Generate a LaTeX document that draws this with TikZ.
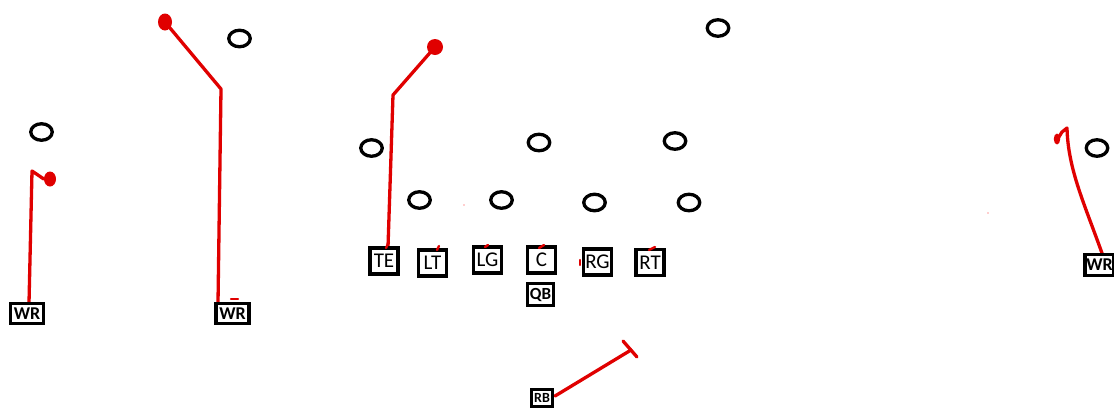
\documentclass[tikz,border=0pt]{standalone}
\usepackage{fontspec}
\setmainfont{Carlito}
\usetikzlibrary{shapes.geometric}
\begin{document}
\begin{tikzpicture}[x=1pt,y=-1pt,
  player/.style={draw=black,line width=3.8pt,fill=white,inner sep=0pt,font=\fontsize{21}{21}\selectfont},
  lineman/.style={player,minimum width=28pt,minimum height=26pt},
  skill/.style={player,line width=3.4pt,minimum width=33pt,minimum height=20pt,font=\bfseries\fontsize{18}{18}\selectfont},
  defender/.style={draw=black,line width=3.3pt,ellipse,minimum width=21.5pt,minimum height=16.5pt,inner sep=0pt},
  route/.style={draw=red!88!black,line width=3.3pt,line cap=round,line join=round},
  catch/.style={fill=red!88!black,ellipse,minimum width=12pt,minimum height=15pt,inner sep=0pt},
  tick/.style={draw=red!88!black,line width=2.4pt,line cap=round}]
\useasboundingbox (0,0) rectangle (1114,408);
\fill[white] (0,0) rectangle (1114,408);
% defenders
\node[defender] (d1) at (41.5,132) {};
\node[defender] (d2) at (239.5,38.5) {};
\node[defender] (d3) at (718,28) {};
\node[defender] (d4) at (371.5,148) {};
\node[defender] (d5) at (539,142.5) {};
\node[defender] (d6) at (675,141) {};
\node[defender] (d7) at (419.5,200) {};
\node[defender] (d8) at (501.5,200) {};
\node[defender] (d9) at (594.5,202.5) {};
\node[defender] (d10) at (689,202.5) {};
\node[defender] (d11) at (1097,148) {};
% routes (drawn before offense boxes)
\coordinate (w1a) at (29,303);
\coordinate (w1b) at (32,171);
\node[catch] (w1c) at (50,179) {};
\draw[route] (w1a) -- (w1b) -- (w1c.west);
\coordinate (w2a) at (218,303);
\coordinate (w2b) at (221,89);
\node[catch,minimum width=14pt,minimum height=17pt] (w2c) at (165,22) {};
\draw[route] (w2a) -- (w2b) -- (w2c.center);
\coordinate (tea) at (388,247);
\coordinate (teb) at (393,95);
\node[catch,minimum width=16pt,minimum height=16pt] (tec) at (435,47) {};
\draw[route] (tea) -- (teb) -- (tec.center);
\coordinate (w3a) at (1103,256);
\coordinate (w3b) at (1067,128);
\coordinate (w3c) at (1057,140);
\draw[route] (w3a) .. controls (1085,205) and (1068,170) .. (w3b) -- (1062,132) -- (w3c);
\fill[red!88!black] (1057,139) ellipse (3.2pt and 5.5pt);
\coordinate (rbt) at (631,350);
\draw[route] (555,396) -- (rbt);
\coordinate (t1) at (623,341);
\coordinate (t2) at (637,357);
\draw[route] (t1) -- (t2);
% offense
\node[skill] (wr1) at (27,313.5) {WR};
\node[skill] (wr2) at (232.5,313.5) {WR};
\node[lineman] (te) at (384,261) {TE};
\node[lineman] (lt) at (432.5,263) {LT};
\node[lineman] (lg) at (487.5,260) {LG};
\node[lineman] (c) at (541.5,260) {C};
\node[lineman] (rg) at (597.5,262) {RG};
\node[lineman] (rt) at (650,262.5) {RT};
\node[skill,minimum width=25.5pt,minimum height=21.5pt,font=\bfseries\fontsize{17}{17}\selectfont] (qb) at (540.5,294.5) {QB};
\node[skill,line width=3pt,minimum width=21pt,minimum height=17pt,font=\bfseries\fontsize{14}{14}\selectfont] (rb) at (542,398) {RB};
\node[skill,minimum width=29pt,minimum height=20.5pt] (wr3) at (1099.5,265) {WR};
% little red marks
\draw[tick] (231,299) -- (238,299);
\draw[tick] (386,248) -- (389,242);
\draw[tick] (437,250) -- (439,246);
\draw[tick] (485,247) -- (488,245);
\draw[tick] (539,248) -- (544,245);
\draw[tick] (649,250) -- (655,247);
\draw[tick] (580,260) -- (580,265);
\fill[red!80] (464,205) circle (0.7pt);
\fill[red!80] (988,213) circle (0.7pt);
\end{tikzpicture}
\end{document}
